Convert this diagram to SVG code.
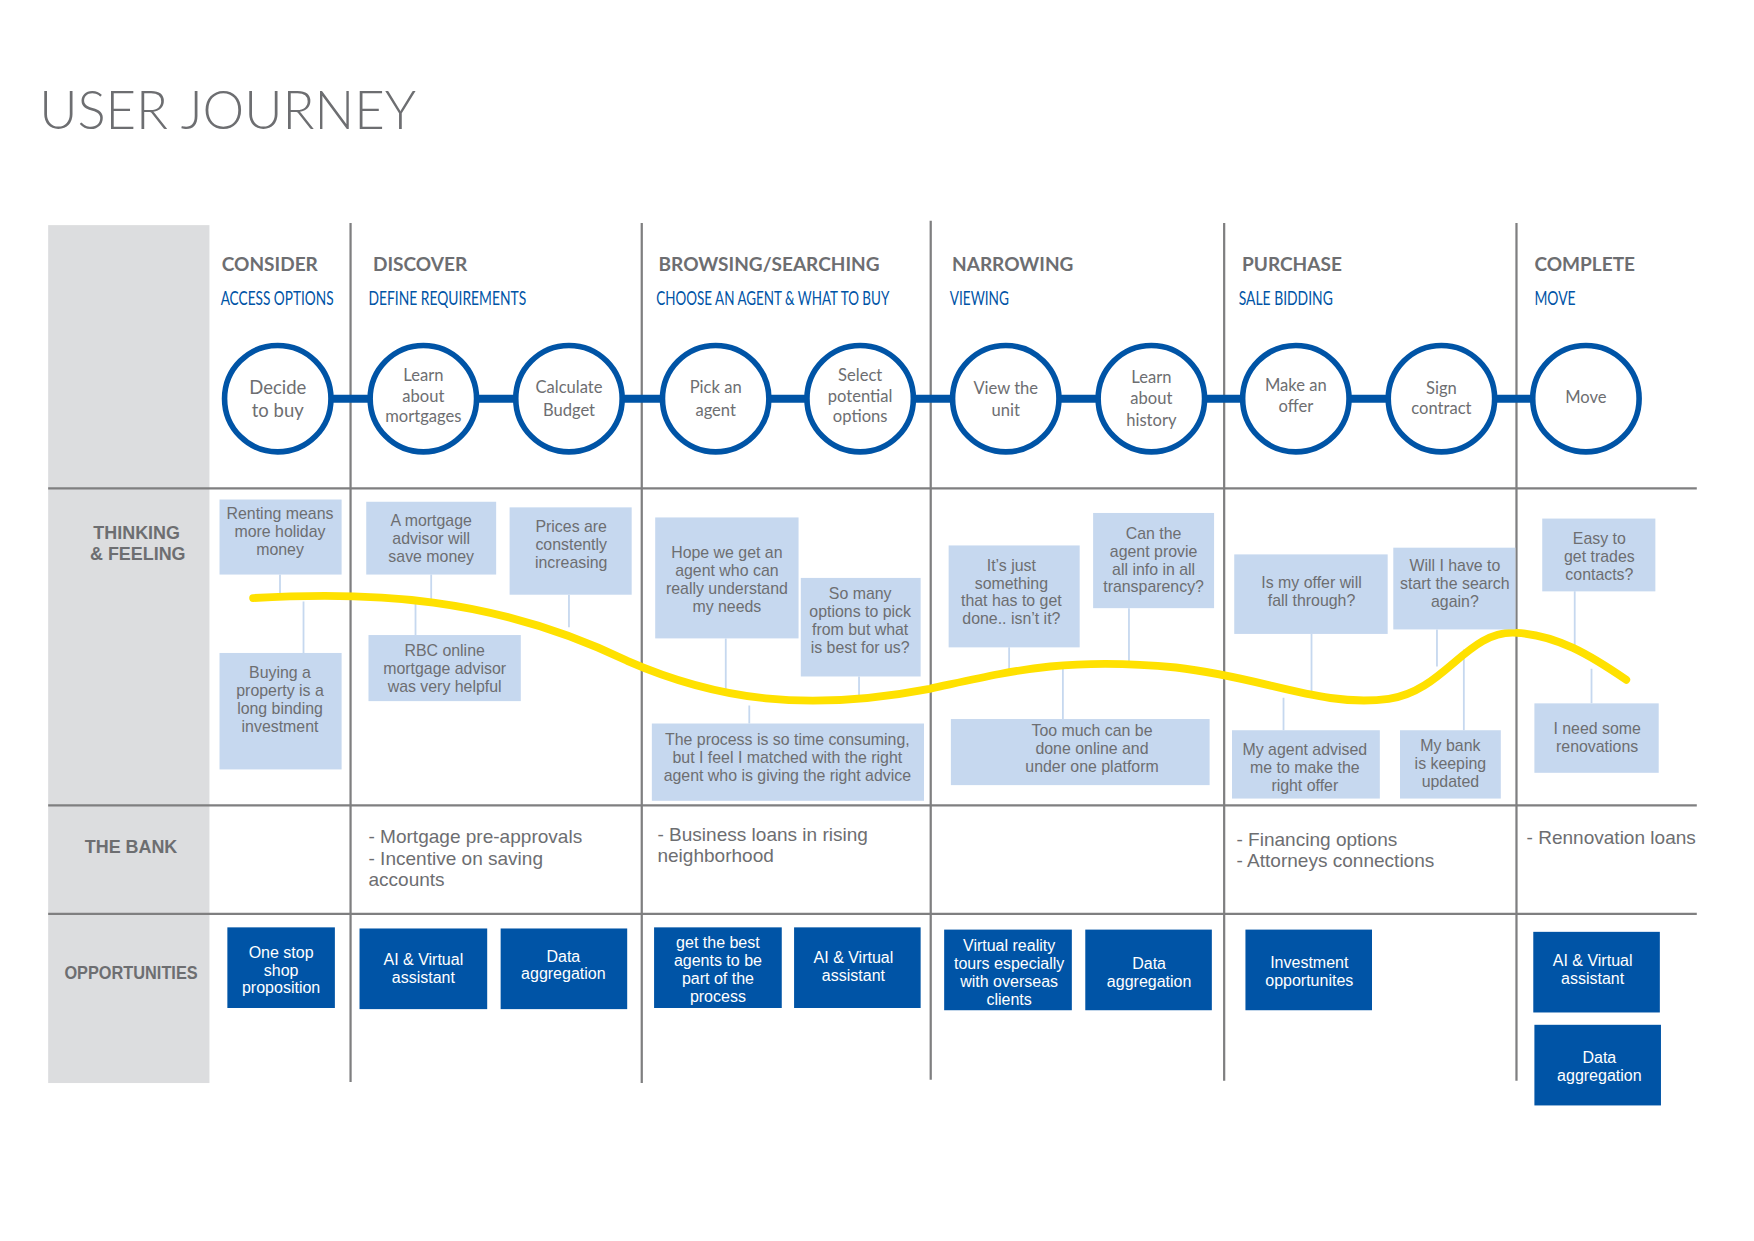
<svg xmlns="http://www.w3.org/2000/svg" width="1754" height="1241" viewBox="0 0 1754 1241">
<style>
.title{font-family:Lato,"Liberation Sans",sans-serif;font-weight:300;font-size:47px;fill:#6d6e71}
.hd{font-family:Lato,"Liberation Sans",sans-serif;font-weight:bold;font-size:17px;fill:#6d6e71}
.sub{font-family:Lato,"Liberation Sans",sans-serif;font-size:16.5px;fill:#0054a6}
.rowlbl{font-family:"Liberation Sans",Arial,sans-serif;font-weight:bold;font-size:16px;fill:#6d6e71;text-anchor:middle}
.grid{stroke:#7f7f80;stroke-width:2;fill:none}
.stage{fill:#fff;stroke:#0054a6;stroke-width:5}
.ct{font-family:Lato,"Liberation Sans",sans-serif;font-size:14.8px;fill:#6d6e71;text-anchor:middle}
.link{stroke:#0054a6;stroke-width:7;fill:none}
.tk{fill:#c6d8ef}
.tt{font-family:"Liberation Sans",Arial,sans-serif;font-size:14.2px;fill:#6d6e71;text-anchor:middle}
.tl{stroke:#c6d8ef;stroke-width:1.6;fill:none}
.curve{stroke:#ffe100;stroke-width:7;fill:none;stroke-linecap:round}
.bank{font-family:"Liberation Sans",Arial,sans-serif;font-size:17px;fill:#6d6e71}
.op{fill:#0054a6}
.ot{font-family:"Liberation Sans",Arial,sans-serif;font-size:14.3px;fill:#fff;text-anchor:middle}
</style>
<rect width="1754" height="1241" fill="#fff"/>
<g transform="scale(1.12)">
<text class="title" x="35" y="115">USER JOURNEY</text>
<rect x="43" y="201" width="144" height="766" fill="#dcdddf"/>
<g id="grid">
<line class="grid" x1="43" y1="436" x2="1515" y2="436"/>
<line class="grid" x1="43" y1="719" x2="1515" y2="719"/>
<line class="grid" x1="43" y1="816" x2="1515" y2="816"/>
<line class="grid" x1="313" y1="199" x2="313" y2="966"/>
<line class="grid" x1="573" y1="199" x2="573" y2="967"/>
<line class="grid" x1="831" y1="197" x2="831" y2="964"/>
<line class="grid" x1="1093" y1="199" x2="1093" y2="965"/>
<line class="grid" x1="1354" y1="199" x2="1354" y2="965"/>
</g>
<g id="row-labels">
<text class="rowlbl" x="122" y="481">THINKING</text>
<text class="rowlbl" x="123" y="500">&amp; FEELING</text>
<text class="rowlbl" x="117" y="762">THE BANK</text>
<text class="rowlbl" x="117" y="874" textLength="119" lengthAdjust="spacingAndGlyphs">OPPORTUNITIES</text>
</g>
<g id="phases">
<g id="phase-consider"><text class="hd" x="198" y="242">CONSIDER</text><text class="sub" transform="translate(197,272) scale(0.8,1)" textLength="126" lengthAdjust="spacingAndGlyphs">ACCESS OPTIONS</text></g>
<g id="phase-discover"><text class="hd" x="333" y="242">DISCOVER</text><text class="sub" transform="translate(329,272) scale(0.8,1)" textLength="176" lengthAdjust="spacingAndGlyphs">DEFINE REQUIREMENTS</text></g>
<g id="phase-browsing"><text class="hd" x="588" y="242">BROWSING/SEARCHING</text><text class="sub" transform="translate(586,272) scale(0.8,1)" textLength="260" lengthAdjust="spacingAndGlyphs">CHOOSE AN AGENT &amp; WHAT TO BUY</text></g>
<g id="phase-narrowing"><text class="hd" x="850" y="242">NARROWING</text><text class="sub" transform="translate(848,272) scale(0.8,1)" textLength="66" lengthAdjust="spacingAndGlyphs">VIEWING</text></g>
<g id="phase-purchase"><text class="hd" x="1109" y="242">PURCHASE</text><text class="sub" transform="translate(1106,272) scale(0.8,1)" textLength="105" lengthAdjust="spacingAndGlyphs">SALE BIDDING</text></g>
<g id="phase-complete"><text class="hd" x="1370" y="242">COMPLETE</text><text class="sub" transform="translate(1370,272) scale(0.8,1)" textLength="46" lengthAdjust="spacingAndGlyphs">MOVE</text></g>
</g>
<g id="connectors">
<line class="link" x1="296" y1="356" x2="330" y2="356"/>
<line class="link" x1="426" y1="356" x2="460" y2="356"/>
<line class="link" x1="556" y1="356" x2="591" y2="356"/>
<line class="link" x1="687" y1="356" x2="720" y2="356"/>
<line class="link" x1="816" y1="356" x2="850" y2="356"/>
<line class="link" x1="946" y1="356" x2="980" y2="356"/>
<line class="link" x1="1076" y1="356" x2="1109" y2="356"/>
<line class="link" x1="1205" y1="356" x2="1239" y2="356"/>
<line class="link" x1="1335" y1="356" x2="1368" y2="356"/>
<path class="tl" d="M250 513V535 M271 537V583 M385 513V536 M371 538V567 M508 531V560 M648 570V620 M767 604V625 M669 630V646 M901 578V598 M1008 543V592 M949 594V642 M1171 566V618 M1283 562V595 M1146 623V652 M1307 580V652 M1406 528V577 M1421 597V628"/>
</g>
<g id="stages">
<g id="s1"><circle class="stage" cx="248" cy="356" r="47.5"/><text class="ct" style="font-size:16.5px" x="248" y="352">Decide</text><text class="ct" style="font-size:16.5px" x="248" y="372">to buy</text></g>
<g id="s2"><circle class="stage" cx="378" cy="356" r="47.5"/><text class="ct" x="378" y="340">Learn</text><text class="ct" x="378" y="358.5">about</text><text class="ct" x="378" y="377">mortgages</text></g>
<g id="s3"><circle class="stage" cx="508" cy="356" r="47.5"/><text class="ct" x="508" y="351">Calculate</text><text class="ct" x="508" y="371">Budget</text></g>
<g id="s4"><circle class="stage" cx="639" cy="356" r="47.5"/><text class="ct" x="639" y="351">Pick an</text><text class="ct" x="639" y="371">agent</text></g>
<g id="s5"><circle class="stage" cx="768" cy="356" r="47.5"/><text class="ct" x="768" y="340">Select</text><text class="ct" x="768" y="358.5">potential</text><text class="ct" x="768" y="377">options</text></g>
<g id="s6"><circle class="stage" cx="898" cy="356" r="47.5"/><text class="ct" x="898" y="352">View the</text><text class="ct" x="898" y="371">unit</text></g>
<g id="s7"><circle class="stage" cx="1028" cy="356" r="47.5"/><text class="ct" x="1028" y="342">Learn</text><text class="ct" x="1028" y="361">about</text><text class="ct" x="1028" y="380">history</text></g>
<g id="s8"><circle class="stage" cx="1157" cy="356" r="47.5"/><text class="ct" x="1157" y="349">Make an</text><text class="ct" x="1157" y="368">offer</text></g>
<g id="s9"><circle class="stage" cx="1287" cy="356" r="47.5"/><text class="ct" x="1287" y="352">Sign</text><text class="ct" x="1287" y="370">contract</text></g>
<g id="s10"><circle class="stage" cx="1416" cy="356" r="47.5"/><text class="ct" x="1416" y="360">Move</text></g>
</g>
<g id="emotion-curve">
<path class="curve" d="M226 534 C330 528 440 532 560 590 C640 625 720 636 830 615 C900 600 950 586 1050 596 C1130 605 1180 632 1240 624 C1290 617 1310 562 1354 565 C1390 567 1420 585 1452 607"/>
</g>
<g id="thinking">
<g id="t1"><rect class="tk" x="196" y="446" width="109" height="67"/><text class="tt" x="250" y="463.5">Renting means</text><text class="tt" x="250" y="479.5">more holiday</text><text class="tt" x="250" y="495.5">money</text></g>
<g id="t2"><rect class="tk" x="196" y="583" width="109" height="104"/><text class="tt" x="250" y="605.5">Buying a</text><text class="tt" x="250" y="621.5">property is a</text><text class="tt" x="250" y="637.5">long binding</text><text class="tt" x="250" y="653.5">investment</text></g>
<g id="t3"><rect class="tk" x="327" y="448" width="116" height="65"/><text class="tt" x="385" y="470">A mortgage</text><text class="tt" x="385" y="486">advisor will</text><text class="tt" x="385" y="502">save money</text></g>
<g id="t4"><rect class="tk" x="329" y="567" width="136" height="59"/><text class="tt" x="397" y="585.5">RBC online</text><text class="tt" x="397" y="601.5">mortgage advisor</text><text class="tt" x="397" y="617.5">was very helpful</text></g>
<g id="t5"><rect class="tk" x="455" y="453" width="109" height="78"/><text class="tt" x="510" y="475">Prices are</text><text class="tt" x="510" y="491">constently</text><text class="tt" x="510" y="507">increasing</text></g>
<g id="t6"><rect class="tk" x="585" y="462" width="128" height="108"/><text class="tt" x="649" y="498">Hope we get an</text><text class="tt" x="649" y="514">agent who can</text><text class="tt" x="649" y="530">really understand</text><text class="tt" x="649" y="546">my needs</text></g>
<g id="t7"><rect class="tk" x="715" y="516" width="107" height="88"/><text class="tt" x="768" y="535">So many</text><text class="tt" x="768" y="551">options to pick</text><text class="tt" x="768" y="567">from but what</text><text class="tt" x="768" y="583">is best for us?</text></g>
<g id="t8"><rect class="tk" x="582" y="646" width="243" height="69"/><text class="tt" x="703" y="665.5">The process is so time consuming,</text><text class="tt" x="703" y="681.5">but I feel I matched with the right</text><text class="tt" x="703" y="697.5">agent who is giving the right advice</text></g>
<g id="t9"><rect class="tk" x="847" y="487" width="117" height="91"/><text class="tt" x="903" y="509.5">It’s just</text><text class="tt" x="903" y="525.5">something</text><text class="tt" x="903" y="541.5">that has to get</text><text class="tt" x="903" y="557.5">done.. isn’t it?</text></g>
<g id="t10"><rect class="tk" x="976" y="458" width="108" height="85"/><text class="tt" x="1030" y="481">Can the</text><text class="tt" x="1030" y="497">agent provie</text><text class="tt" x="1030" y="513">all info in all</text><text class="tt" x="1030" y="529">transparency?</text></g>
<g id="t11"><rect class="tk" x="849" y="642" width="231" height="59"/><text class="tt" x="975" y="657.5">Too much can be</text><text class="tt" x="975" y="673.5">done online and</text><text class="tt" x="975" y="689.5">under one platform</text></g>
<g id="t12"><rect class="tk" x="1102" y="495" width="137" height="71"/><text class="tt" x="1171" y="525">Is my offer will</text><text class="tt" x="1171" y="541">fall through?</text></g>
<g id="t13"><rect class="tk" x="1244" y="489" width="109" height="73"/><text class="tt" x="1299" y="510">Will I have to</text><text class="tt" x="1299" y="526">start the search</text><text class="tt" x="1299" y="542">again?</text></g>
<g id="t14"><rect class="tk" x="1100" y="652" width="132" height="61"/><text class="tt" x="1165" y="674">My agent advised</text><text class="tt" x="1165" y="690">me to make the</text><text class="tt" x="1165" y="706">right offer</text></g>
<g id="t15"><rect class="tk" x="1250" y="652" width="90" height="61"/><text class="tt" x="1295" y="670.5">My bank</text><text class="tt" x="1295" y="686.5">is keeping</text><text class="tt" x="1295" y="702.5">updated</text></g>
<g id="t16"><rect class="tk" x="1377" y="463" width="101" height="65"/><text class="tt" x="1428" y="485.5">Easy to</text><text class="tt" x="1428" y="501.5">get trades</text><text class="tt" x="1428" y="517.5">contacts?</text></g>
<g id="t17"><rect class="tk" x="1370" y="628" width="111" height="62"/><text class="tt" x="1426" y="655.5">I need some</text><text class="tt" x="1426" y="671.5">renovations</text></g>
</g>
<g id="bank">
<g id="b-discover"><text class="bank" x="329" y="753">- Mortgage pre-approvals</text><text class="bank" x="329" y="772">- Incentive on saving</text><text class="bank" x="329" y="791">accounts</text></g>
<g id="b-browsing"><text class="bank" x="587" y="751">- Business loans in rising</text><text class="bank" x="587" y="770">neighborhood</text></g>
<g id="b-purchase"><text class="bank" x="1104" y="755">- Financing options</text><text class="bank" x="1104" y="774">- Attorneys connections</text></g>
<g id="b-complete"><text class="bank" x="1363" y="754">- Rennovation loans</text></g>
</g>
<g id="opportunities">
<g id="o1"><rect class="op" x="203" y="828" width="96" height="72"/><text class="ot" x="251" y="855">One stop</text><text class="ot" x="251" y="871">shop</text><text class="ot" x="251" y="887">proposition</text></g>
<g id="o2"><rect class="op" x="321" y="829" width="114" height="72"/><text class="ot" x="378" y="861.5">AI &amp; Virtual</text><text class="ot" x="378" y="877.5">assistant</text></g>
<g id="o3"><rect class="op" x="447" y="829" width="113" height="72"/><text class="ot" x="503" y="858.5">Data</text><text class="ot" x="503" y="874.5">aggregation</text></g>
<g id="o4"><rect class="op" x="584" y="828" width="114" height="72"/><text class="ot" x="641" y="846.5">get the best</text><text class="ot" x="641" y="862.5">agents to be</text><text class="ot" x="641" y="878.5">part of the</text><text class="ot" x="641" y="894.5">process</text></g>
<g id="o5"><rect class="op" x="709" y="828" width="113" height="72"/><text class="ot" x="762" y="859.5">AI &amp; Virtual</text><text class="ot" x="762" y="875.5">assistant</text></g>
<g id="o6"><rect class="op" x="843" y="830" width="114" height="72"/><text class="ot" x="901" y="849.5">Virtual reality</text><text class="ot" x="901" y="865.5">tours especially</text><text class="ot" x="901" y="881.5">with overseas</text><text class="ot" x="901" y="897.5">clients</text></g>
<g id="o7"><rect class="op" x="969" y="830" width="113" height="72"/><text class="ot" x="1026" y="865.5">Data</text><text class="ot" x="1026" y="881.5">aggregation</text></g>
<g id="o8"><rect class="op" x="1112" y="830" width="113" height="72"/><text class="ot" x="1169" y="864.5">Investment</text><text class="ot" x="1169" y="880.5">opportunites</text></g>
<g id="o9"><rect class="op" x="1369" y="832" width="113" height="72"/><text class="ot" x="1422" y="862.5">AI &amp; Virtual</text><text class="ot" x="1422" y="878.5">assistant</text></g>
<g id="o10"><rect class="op" x="1370" y="915" width="113" height="72"/><text class="ot" x="1428" y="949.5">Data</text><text class="ot" x="1428" y="965.5">aggregation</text></g>
</g>
</g>
</svg>
